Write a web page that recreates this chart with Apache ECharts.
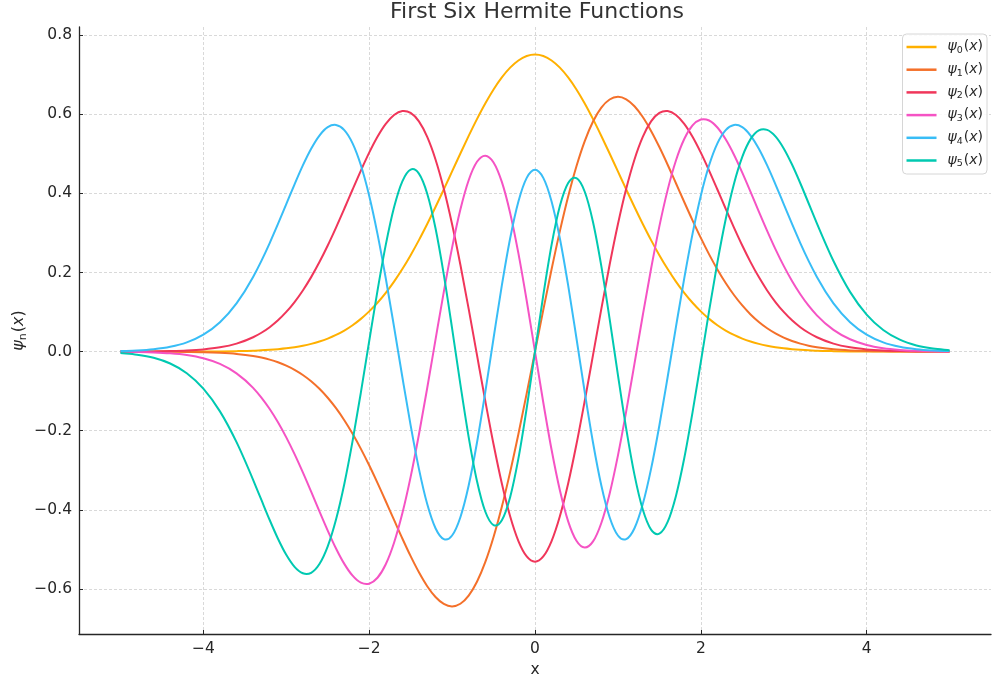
<!DOCTYPE html>
<html>
<head>
<meta charset="utf-8">
<script src="https://cdn.jsdelivr.net/npm/echarts@6/dist/echarts.min.js"></script>
<style>
  html, body { margin: 0; padding: 0; background: #ffffff; }
  #chart { width: 992px; height: 680px; }
</style>
</head>
<body>
<div id="chart"></div>
<script>
// x sample positions (finer in the oscillating middle part)
const xs = [-5.0,-4.8,-4.6,-4.4,-4.2,-4.0,-3.8,-3.6,-3.4,-3.3,-3.2,-3.1,-3.0,-2.9,-2.8,-2.7,-2.6,-2.5,-2.4,-2.3,-2.2,-2.1,-2.0,-1.9,-1.8,-1.7,-1.6,-1.5,-1.4,-1.3,-1.2,-1.1,-1.0,-0.9,-0.8,-0.7,-0.6,-0.5,-0.4,-0.3,-0.2,-0.1,
  0.0,0.1,0.2,0.3,0.4,0.5,0.6,0.7,0.8,0.9,1.0,1.1,1.2,1.3,1.4,1.5,1.6,1.7,1.8,1.9,2.0,2.1,2.2,2.3,2.4,2.5,2.6,2.7,2.8,2.9,3.0,3.1,3.2,3.3,3.4,3.6,3.8,4.0,4.2,4.4,4.6,4.8,5.0];

const psi0 = [0.0000,0.0000,0.0000,0.0000,0.0001,0.0003,0.0005,0.0012,0.0023,0.0032,0.0045,0.0062,0.0083,0.0112,0.0149,0.0196,0.0256,0.0330,0.0422,0.0533,0.0668,0.0828,0.1017,0.1235,0.1486,0.1771,0.2088,0.2439,0.2819,0.3227,0.3656,0.4102,0.4556,0.5010,0.5454,0.5879,0.6274,0.6629,0.6934,0.7181,0.7363,0.7474,
  0.7511,0.7474,0.7363,0.7181,0.6934,0.6629,0.6274,0.5879,0.5454,0.5010,0.4556,0.4102,0.3656,0.3227,0.2819,0.2439,0.2088,0.1771,0.1486,0.1235,0.1017,0.0828,0.0668,0.0533,0.0422,0.0330,0.0256,0.0196,0.0149,0.0112,0.0083,0.0062,0.0045,0.0032,0.0023,0.0012,0.0005,0.0003,0.0001,0.0000,0.0000,0.0000,0.0000];

const psi1 = [0.0000,-0.0001,-0.0001,-0.0003,-0.0007,-0.0014,-0.0030,-0.0059,-0.0112,-0.0151,-0.0203,-0.0270,-0.0354,-0.0460,-0.0590,-0.0749,-0.0940,-0.1167,-0.1431,-0.1735,-0.2078,-0.2459,-0.2875,-0.3320,-0.3784,-0.4257,-0.4726,-0.5173,-0.5581,-0.5932,-0.6205,-0.6381,-0.6443,-0.6376,-0.6171,-0.5820,-0.5324,-0.4687,-0.3922,-0.3047,-0.2082,-0.1057,
  0.0000,0.1057,0.2082,0.3047,0.3922,0.4687,0.5324,0.5820,0.6171,0.6376,0.6443,0.6381,0.6205,0.5932,0.5581,0.5173,0.4726,0.4257,0.3784,0.3320,0.2875,0.2459,0.2078,0.1735,0.1431,0.1167,0.0940,0.0749,0.0590,0.0460,0.0354,0.0270,0.0203,0.0151,0.0112,0.0059,0.0030,0.0014,0.0007,0.0003,0.0001,0.0001,0.0000];

const psi2 = [0.0001,0.0002,0.0006,0.0013,0.0027,0.0055,0.0108,0.0203,0.0363,0.0477,0.0618,0.0792,0.1003,0.1254,0.1547,0.1884,0.2264,0.2684,0.3137,0.3613,0.4100,0.4579,0.5032,0.5434,0.5760,0.5985,0.6084,0.6035,0.5821,0.5430,0.4860,0.4118,0.3221,0.2196,0.1080,-0.0083,-0.1242,-0.2344,-0.3334,-0.4164,-0.4790,-0.5179,
  -0.5311,-0.5179,-0.4790,-0.4164,-0.3334,-0.2344,-0.1242,-0.0083,0.1080,0.2196,0.3221,0.4118,0.4860,0.5430,0.5821,0.6035,0.6084,0.5985,0.5760,0.5434,0.5032,0.4579,0.4100,0.3613,0.3137,0.2684,0.2264,0.1884,0.1547,0.1254,0.1003,0.0792,0.0618,0.0477,0.0363,0.0203,0.0108,0.0055,0.0027,0.0013,0.0006,0.0002,0.0001];

const psi3 = [-0.0004,-0.0009,-0.0020,-0.0043,-0.0087,-0.0169,-0.0312,-0.0549,-0.0916,-0.1161,-0.1450,-0.1786,-0.2168,-0.2593,-0.3055,-0.3542,-0.4039,-0.4525,-0.4978,-0.5368,-0.5667,-0.5844,-0.5869,-0.5719,-0.5376,-0.4832,-0.4090,-0.3168,-0.2096,-0.0920,0.0304,0.1511,0.2630,0.3592,0.4333,0.4800,0.4955,0.4784,0.4292,0.3507,0.2483,0.1286,
  0.0000,-0.1286,-0.2483,-0.3507,-0.4292,-0.4784,-0.4955,-0.4800,-0.4333,-0.3592,-0.2630,-0.1511,-0.0304,0.0920,0.2096,0.3168,0.4090,0.4832,0.5376,0.5719,0.5869,0.5844,0.5667,0.5368,0.4978,0.4525,0.4039,0.3542,0.3055,0.2593,0.2168,0.1786,0.1450,0.1161,0.0916,0.0549,0.0312,0.0169,0.0087,0.0043,0.0020,0.0009,0.0004];

const psi4 = [0.0013,0.0028,0.0060,0.0122,0.0235,0.0430,0.0745,0.1221,0.1889,0.2295,0.2745,0.3228,0.3730,0.4232,0.4709,0.5130,0.5464,0.5675,0.5731,0.5602,0.5266,0.4711,0.3942,0.2978,0.1854,0.0625,-0.0642,-0.1867,-0.2966,-0.3856,-0.4467,-0.4742,-0.4650,-0.4188,-0.3386,-0.2304,-0.1027,0.0338,0.1674,0.2862,0.3797,0.4394,
  0.4600,0.4394,0.3797,0.2862,0.1674,0.0338,-0.1027,-0.2304,-0.3386,-0.4188,-0.4650,-0.4742,-0.4467,-0.3856,-0.2966,-0.1867,-0.0642,0.0625,0.1854,0.2978,0.3942,0.4711,0.5266,0.5602,0.5731,0.5675,0.5464,0.5130,0.4709,0.4232,0.3730,0.3228,0.2745,0.2295,0.1889,0.1221,0.0745,0.0430,0.0235,0.0122,0.0060,0.0028,0.0013];

const psi5 = [-0.0036,-0.0078,-0.0157,-0.0301,-0.0546,-0.0936,-0.1511,-0.2290,-0.3242,-0.3752,-0.4258,-0.4731,-0.5138,-0.5443,-0.5606,-0.5593,-0.5373,-0.4926,-0.4247,-0.3347,-0.2258,-0.1031,0.0263,0.1537,0.2698,0.3650,0.4307,0.4604,0.4501,0.3994,0.3118,0.1948,0.0588,-0.0829,-0.2162,-0.3273,-0.4043,-0.4386,-0.4262,-0.3680,-0.2701,-0.1428,
  0.0000,0.1428,0.2701,0.3680,0.4262,0.4386,0.4043,0.3273,0.2162,0.0829,-0.0588,-0.1948,-0.3118,-0.3994,-0.4501,-0.4604,-0.4307,-0.3650,-0.2698,-0.1537,-0.0263,0.1031,0.2258,0.3347,0.4247,0.4926,0.5373,0.5593,0.5606,0.5443,0.5138,0.4731,0.4258,0.3752,0.3242,0.2290,0.1511,0.0936,0.0546,0.0301,0.0157,0.0078,0.0036];

const seriesNames = ['ψ0(x)', 'ψ1(x)', 'ψ2(x)', 'ψ3(x)', 'ψ4(x)', 'ψ5(x)'];
const subscripts = ['0', '1', '2', '3', '4', '5'];
const seriesValues = [psi0, psi1, psi2, psi3, psi4, psi5];
const colors = ['#FFB000', '#F4702A', '#F0365A', '#F553C4', '#38BDF6', '#00C9B1'];

const titleText = 'First Six Hermite Functions';
const xAxisName = 'x';

const FONT = '"DejaVu Sans", "Liberation Sans", sans-serif';
const TXT = '#262626';

function fmtMinus(v, step, digits) {
  const k = v / step;
  if (Math.abs(k - Math.round(k)) > 1e-6) return '';
  const a = Math.abs(v) < 1e-9 ? 0 : v;
  const s = Math.abs(a).toFixed(digits);
  return (a < 0 ? '\u2212' : '') + s;
}

// Smooth curve through the sampled points (cubic Hermite in data space),
// every point is mapped to pixels through the cartesian axes with api.coord.
function curveRenderer(vals, color) {
  return function (params, api) {
    if (params.dataIndex !== 0) return null;
    const n = xs.length;
    const m = new Array(n);
    for (let i = 0; i < n; i++) {
      if (i === 0) m[i] = (vals[1] - vals[0]) / (xs[1] - xs[0]);
      else if (i === n - 1) m[i] = (vals[n - 1] - vals[n - 2]) / (xs[n - 1] - xs[n - 2]);
      else {
        const h0 = xs[i] - xs[i - 1], h1 = xs[i + 1] - xs[i];
        const s0 = (vals[i] - vals[i - 1]) / h0, s1 = (vals[i + 1] - vals[i]) / h1;
        m[i] = (s0 * h1 + s1 * h0) / (h0 + h1);
      }
    }
    const p0 = api.coord([xs[0], vals[0]]);
    let d = 'M' + p0[0].toFixed(2) + ' ' + p0[1].toFixed(2);
    for (let i = 0; i < n - 1; i++) {
      const h = xs[i + 1] - xs[i];
      const c1 = api.coord([xs[i] + h / 3, vals[i] + m[i] * h / 3]);
      const c2 = api.coord([xs[i + 1] - h / 3, vals[i + 1] - m[i + 1] * h / 3]);
      const p = api.coord([xs[i + 1], vals[i + 1]]);
      d += ' C' + c1[0].toFixed(2) + ' ' + c1[1].toFixed(2) + ' ' + c2[0].toFixed(2) + ' ' + c2[1].toFixed(2) + ' ' + p[0].toFixed(2) + ' ' + p[1].toFixed(2);
    }
    return {
      type: 'path',
      shape: { pathData: d },
      style: { stroke: color, lineWidth: 2, fill: null, lineJoin: 'round', lineCap: 'butt' },
      silent: true
    };
  };
}

const chart = echarts.init(document.getElementById('chart'), null, { renderer: 'canvas' });

const series = seriesValues.map((vals, i) => ({
  name: seriesNames[i],
  type: 'custom',
  coordinateSystem: 'cartesian2d',
  data: xs.map((x, j) => [x, vals[j]]),
  encode: { x: 0, y: 1 },
  renderItem: curveRenderer(vals, colors[i]),
  z: 2 + i,
  itemStyle: { color: colors[i] },
  silent: true
}));

function richMath(fs, subFs, lead) {
  return {
    psi: { fontFamily: FONT, fontStyle: 'italic', fontSize: fs, color: TXT, lineHeight: fs + 3, verticalAlign: 'bottom', padding: [0, 0, 2, lead] },
    sub: { fontFamily: FONT, fontSize: subFs, color: TXT, lineHeight: fs + 3, verticalAlign: 'bottom', padding: [0, 1, 0, 0] },
    par: { fontFamily: FONT, fontSize: fs, color: TXT, lineHeight: fs + 3, verticalAlign: 'bottom', padding: [0, 0, 2, 0] },
    ix:  { fontFamily: FONT, fontStyle: 'italic', fontSize: fs, color: TXT, lineHeight: fs + 3, verticalAlign: 'bottom', padding: [0, 0, 2, 0] }
  };
}

const option = {
  animation: false,
  backgroundColor: '#ffffff',
  color: colors,
  title: {
    text: titleText,
    left: 390,
    top: 1,
    padding: 0,
    textStyle: { fontFamily: FONT, fontSize: 22, fontWeight: 'normal', color: '#333333' }
  },
  legend: {
    orient: 'vertical',
    right: 5,
    top: 34,
    padding: [5.5, 4, 5, 4],
    itemGap: 6.7,
    itemWidth: 30,
    itemHeight: 2.5,
    icon: 'rect',
    borderColor: '#d6d6d6',
    borderWidth: 1,
    borderRadius: 4,
    backgroundColor: 'rgba(255,255,255,0.85)',
    selectedMode: false,
    data: seriesNames.map((n, i) => ({ name: n, itemStyle: { color: colors[i] } })),
    formatter: function (name) {
      const i = seriesNames.indexOf(name);
      return '{psi|ψ}{sub|' + subscripts[i] + '}{par|(}{ix|x}{par|)}';
    },
    textStyle: { fontFamily: FONT, fontSize: 14, color: TXT, rich: richMath(14, 9.5, 6) }
  },
  grid: {
    left: 79, right: 1, top: 27, bottom: 46,
    containLabel: false,
    outerBoundsMode: 'none'
  },
  xAxis: {
    type: 'value',
    min: -5.5,
    max: 5.5,
    splitNumber: 5,
    name: xAxisName,
    nameLocation: 'middle',
    nameGap: 28,
    nameMoveOverlap: false,
    nameTextStyle: { fontFamily: FONT, fontSize: 15.5, color: TXT },
    axisLine: { show: true, onZero: false, lineStyle: { color: '#262626', width: 1.3 } },
    axisTick: { show: true, inside: true, length: 4, lineStyle: { color: '#262626', width: 1 } },
    axisLabel: {
      margin: 7,
      fontFamily: FONT, fontSize: 15.5, color: TXT,
      showMinLabel: false, showMaxLabel: false,
      formatter: v => fmtMinus(v, 2, 0)
    },
    splitLine: { show: true, showMinLine: false, showMaxLine: false, lineStyle: { color: '#cfcfcf', width: 0.8, type: [3, 2] } }
  },
  yAxis: {
    type: 'value',
    min: -0.7141,
    max: 0.8209,
    splitNumber: 8,
    name: '{psi|ψ}{sub|n}{par|(}{ix|x}{par|)}',
    nameLocation: 'middle',
    nameRotate: 90,
    nameGap: 50,
    nameMoveOverlap: false,
    nameTextStyle: { fontFamily: FONT, fontSize: 16, color: TXT, rich: richMath(16, 11, 0) },
    axisLine: { show: true, onZero: false, lineStyle: { color: '#262626', width: 1.3 } },
    axisTick: { show: true, inside: true, length: 4, lineStyle: { color: '#262626', width: 1 } },
    axisLabel: {
      margin: 7,
      fontFamily: FONT, fontSize: 15.5, color: TXT,
      showMinLabel: false, showMaxLabel: false,
      formatter: v => fmtMinus(v, 0.2, 1)
    },
    splitLine: { show: true, showMinLine: false, showMaxLine: false, lineStyle: { color: '#cfcfcf', width: 0.8, type: [3, 2] } }
  },
  series: series
};

chart.setOption(option);
</script>
</body>
</html>
